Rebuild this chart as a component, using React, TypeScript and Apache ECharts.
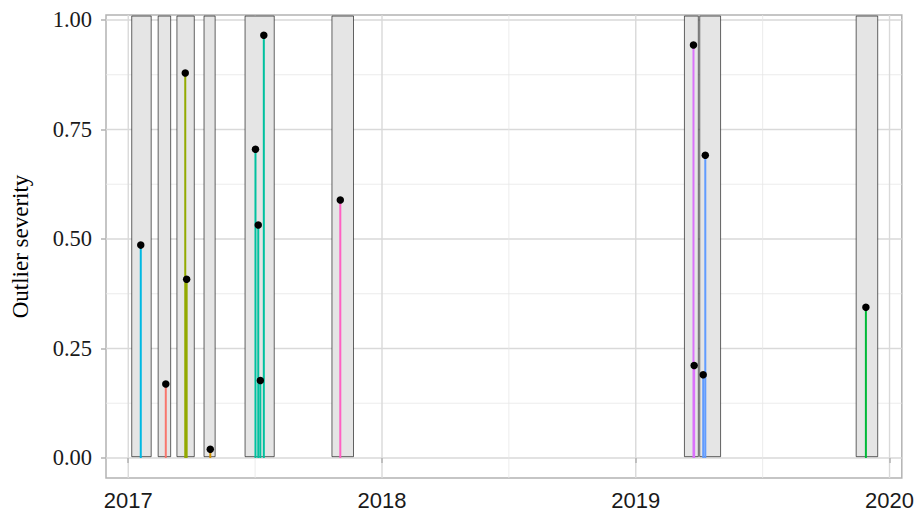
import React, { useEffect, useRef } from "react";
import * as echarts from "echarts";

// ---- data ----
const groupColors = ["#00B9E3", "#F8766D", "#93AA00", "#D39200", "#00C19F", "#FF61C3", "#DB72FB", "#619CFF", "#00BA38"];

const windowStart = ["2017-01-06", "2017-02-13", "2017-03-12", "2017-04-20", "2017-06-18", "2017-10-21", "2019-03-12", "2019-04-03", "2019-11-14"];
const windowEnd = ["2017-02-03", "2017-03-03", "2017-04-06", "2017-05-06", "2017-07-30", "2017-11-21", "2019-04-01", "2019-05-03", "2019-12-15"];
const windowLow = 0.003;
const windowHigh = 1.009;

const eventDates = [
  "2017-01-19", "2017-02-24", "2017-03-24", "2017-03-26", "2017-04-29",
  "2017-07-03", "2017-07-07", "2017-07-10", "2017-07-15", "2017-11-02",
  "2019-03-25", "2019-03-26", "2019-04-08", "2019-04-11", "2019-11-28",
];
const eventSeverity = [0.486, 0.169, 0.879, 0.408, 0.02, 0.705, 0.532, 0.177, 0.965, 0.589, 0.943, 0.211, 0.19, 0.691, 0.344];
const eventGroup = [0, 1, 2, 2, 3, 4, 4, 4, 4, 5, 6, 6, 7, 7, 8];

const yTicks = [0, 0.25, 0.5, 0.75, 1];
const yMinorTicks = [0.125, 0.375, 0.625, 0.875];
const xTicks = ["2017-01-01", "2018-01-01", "2019-01-01", "2020-01-01"];
const xMinorTicks = ["2017-07-02T12:00:00Z", "2018-07-02T12:00:00Z", "2019-07-02T12:00:00Z"];

const t = (s: string) => (s.length === 10 ? Date.parse(s + "T00:00:00Z") : Date.parse(s));

const X_MIN = Date.UTC(2016, 10, 30);
const X_MAX = Date.UTC(2020, 0, 18, 16);
const Y_MIN = -0.0457;
const Y_MAX = 1.0114;

export default function App() {
  const ref = useRef<HTMLDivElement>(null);
  useEffect(() => {
    document.body.style.margin = "0";
    const chart = echarts.init(ref.current!, null, { renderer: "svg" });

    const hGrid = [
      ...yTicks.map((v) => [X_MIN, v, 1]),
      ...yMinorTicks.map((v) => [X_MIN, v, 0]),
    ];
    const vGrid = [
      ...xTicks.map((d) => [t(d), 0, 1]),
      ...xMinorTicks.map((d) => [t(d), 0, 0]),
    ];

    const option: any = {
      animation: false,
      backgroundColor: "#ffffff",
      grid: {
        left: 106,
        top: 15,
        width: 797,
        height: 463,
        show: true,
        borderColor: "#b3b3b3",
        borderWidth: 1.5,
        backgroundColor: "transparent",
      },
      xAxis: {
        type: "value",
        min: X_MIN,
        max: X_MAX,
        axisLine: { show: false },
        splitLine: { show: false },
        axisTick: {
          show: true,
          customValues: xTicks.map(t),
          length: 5,
          lineStyle: { color: "#b3b3b3", width: 1.5 },
        },
        axisLabel: {
          customValues: xTicks.map(t),
          formatter: (v: number) => String(new Date(v).getUTCFullYear()),
          fontFamily: "Liberation Sans",
          fontSize: 22,
          color: "#1a1a1a",
          margin: 11,
        },
      },
      yAxis: {
        type: "value",
        min: Y_MIN,
        max: Y_MAX,
        name: "Outlier severity",
        nameLocation: "middle",
        nameRotate: 90,
        nameGap: 74,
        nameTextStyle: { fontFamily: "Liberation Serif", fontSize: 23, color: "#000" },
        axisLine: { show: false },
        splitLine: { show: false },
        axisTick: {
          show: true,
          customValues: yTicks,
          length: 5,
          lineStyle: { color: "#b3b3b3", width: 1.5 },
        },
        axisLabel: {
          customValues: yTicks,
          formatter: (v: number) => v.toFixed(2),
          fontFamily: "Liberation Serif",
          fontSize: 22.5,
          color: "#1a1a1a",
          margin: 14,
        },
      },
      series: [
        {
          type: "custom",
          silent: true,
          z: 0,
          data: hGrid,
          encode: { x: 0, y: 1 },
          renderItem: (params: any, api: any) => {
            const p = api.coord([api.value(0), api.value(1)]);
            const cs = params.coordSys;
            const major = api.value(2) === 1;
            return {
              type: "line",
              shape: { x1: cs.x, y1: p[1], x2: cs.x + cs.width, y2: p[1] },
              style: { stroke: major ? "#d9d9d9" : "#e6e6e6", lineWidth: major ? 1.4 : 0.8 },
            };
          },
        },
        {
          type: "custom",
          silent: true,
          z: 0,
          data: vGrid,
          encode: { x: 0, y: 1 },
          renderItem: (params: any, api: any) => {
            const p = api.coord([api.value(0), api.value(1)]);
            const cs = params.coordSys;
            const major = api.value(2) === 1;
            return {
              type: "line",
              shape: { x1: p[0], y1: cs.y, x2: p[0], y2: cs.y + cs.height },
              style: { stroke: major ? "#d9d9d9" : "#e6e6e6", lineWidth: major ? 1.4 : 0.8 },
            };
          },
        },
        {
          type: "custom",
          silent: true,
          z: 1,
          data: windowStart.map((s, i) => [t(s), t(windowEnd[i]), windowLow, windowHigh]),
          encode: { x: [0, 1], y: [2, 3] },
          renderItem: (params: any, api: any) => {
            const a = api.coord([api.value(0), api.value(2)]);
            const b = api.coord([api.value(1), api.value(3)]);
            return {
              type: "rect",
              shape: { x: a[0], y: b[1], width: b[0] - a[0], height: a[1] - b[1] },
              style: { fill: "#e5e5e5", stroke: "rgba(0,0,0,0.6)", lineWidth: 1 },
            };
          },
        },
        {
          type: "custom",
          silent: true,
          z: 2,
          data: eventDates.map((d, i) => [t(d), 0, eventSeverity[i], eventGroup[i]]),
          encode: { x: 0, y: [1, 2] },
          renderItem: (params: any, api: any) => {
            const a = api.coord([api.value(0), api.value(1)]);
            const b = api.coord([api.value(0), api.value(2)]);
            return {
              type: "line",
              shape: { x1: a[0], y1: a[1], x2: b[0], y2: b[1] },
              style: { stroke: groupColors[api.value(3)], lineWidth: 2 },
            };
          },
        },
        {
          type: "scatter",
          silent: true,
          z: 3,
          symbol: "circle",
          symbolSize: 7.5,
          itemStyle: { color: "#000000", opacity: 1 },
          data: eventDates.map((d, i) => [t(d), eventSeverity[i]]),
        },
      ],
    };
    chart.setOption(option);
    return () => chart.dispose();
  }, []);
  return <div ref={ref} style={{ width: 917, height: 512 }} />;
}
